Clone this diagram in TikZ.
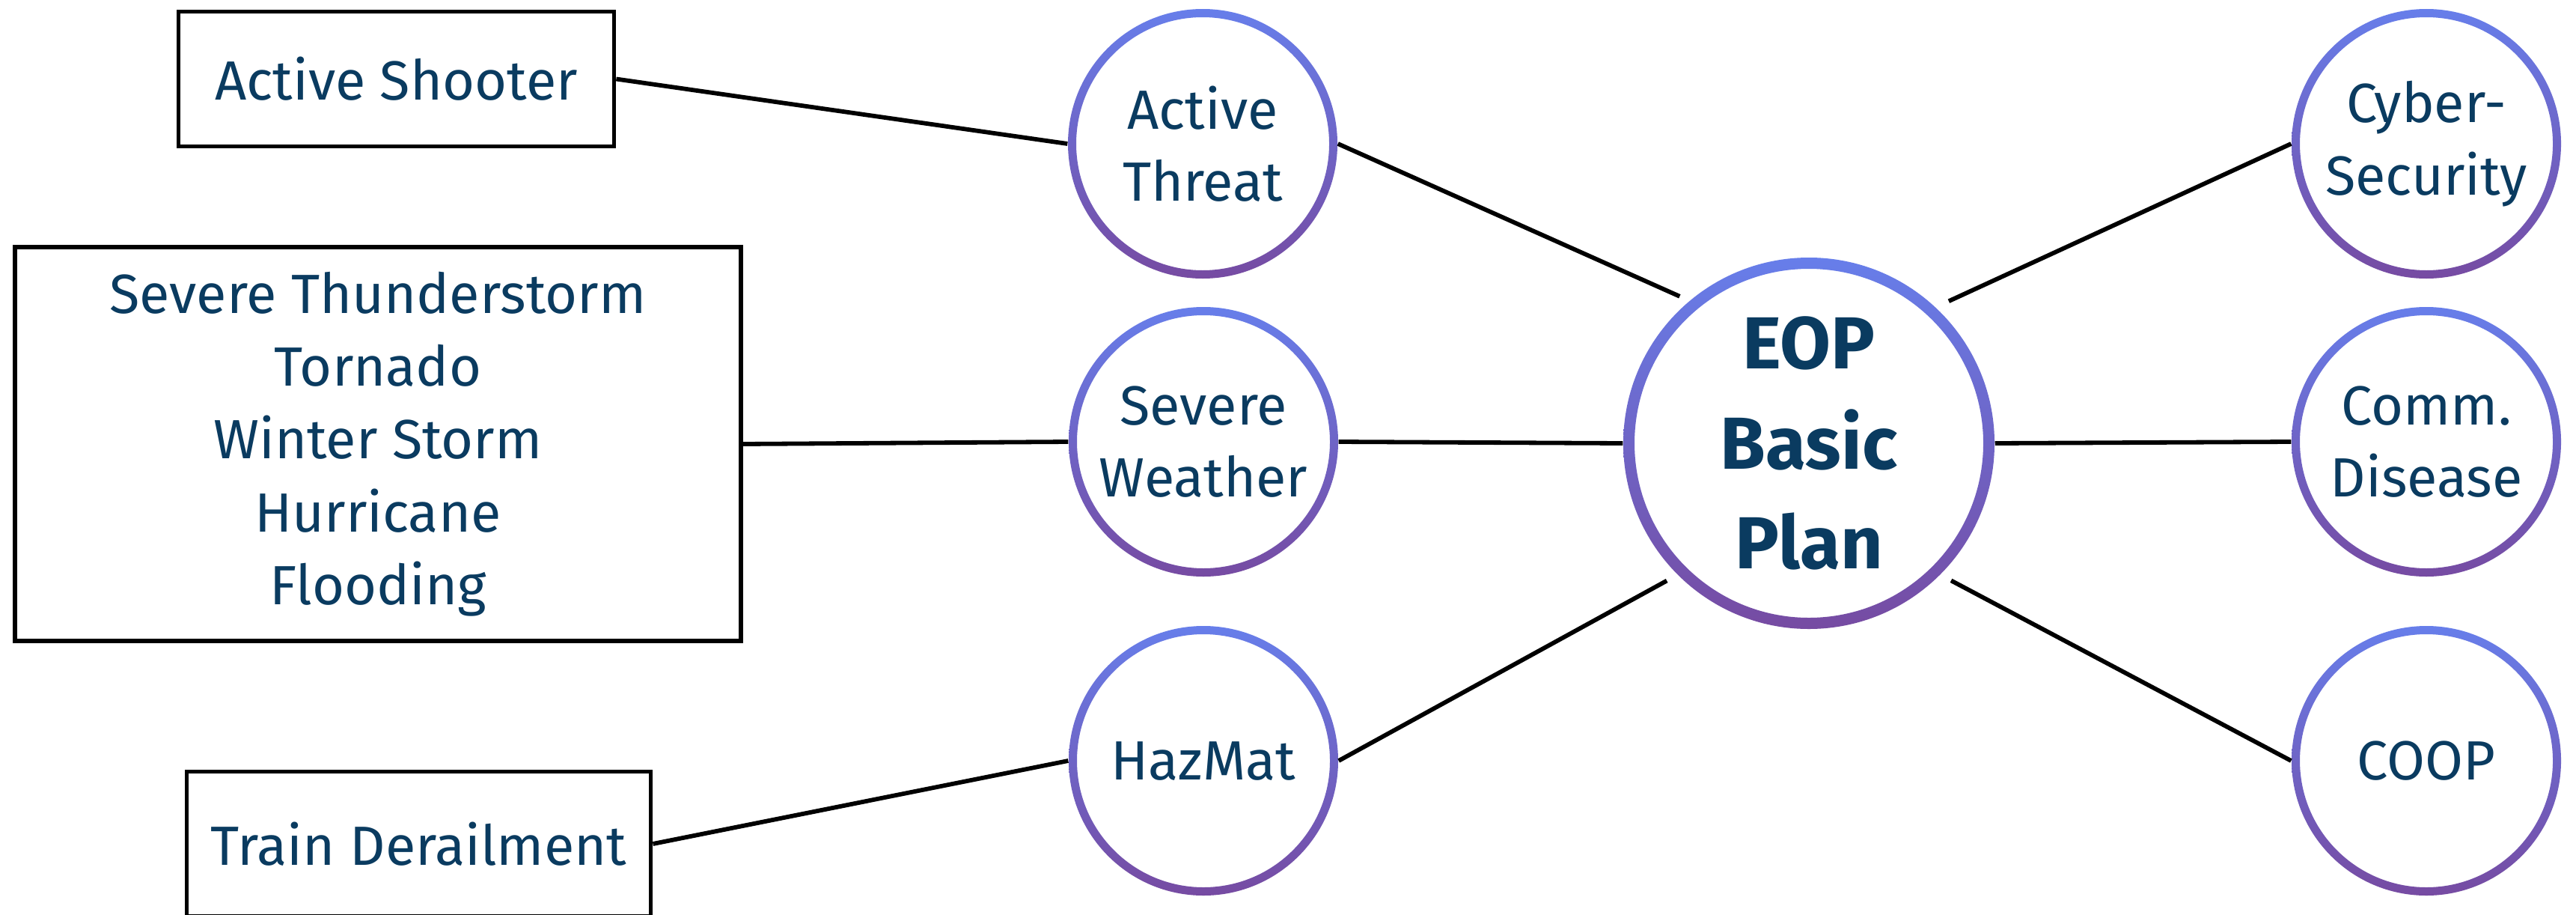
\documentclass[tikz,border=0pt]{standalone}
\usepackage{fontspec}
\setmainfont{Fira Sans}
\definecolor{labelblue}{RGB}{10,59,96}
\definecolor{ringtop}{RGB}{103,126,234}
\definecolor{ringbot}{RGB}{118,75,162}
\tikzset{
  hazard/.style={circle, minimum size=3.6cm, inner sep=0pt, align=center, text=labelblue,
    font=\fontsize{21}{27.5}\selectfont},
  plan/.style={circle, minimum size=4.96cm, inner sep=0pt, align=center, text=labelblue,
    font=\fontsize{28}{38}\selectfont\bfseries},
  event/.style={draw=black, line width=0.058cm, inner sep=0pt, align=center, text=labelblue,
    font=\fontsize{21}{27.7}\selectfont},
  link/.style={line width=0.058cm, draw=black}
}

\begin{document}
\begin{tikzpicture}[x=1cm,y=1cm]

\path[use as bounding box, fill=white] (0,0) rectangle (34.42,-12.21);

% ---------------- Hazard circles ----------------
\node[hazard] (at) at (16.07,-1.92) {Active\\Threat};
\node[hazard] (sw) at (16.08,-5.90) {Severe\\Weather};
\node[hazard] (hm) at (16.08,-10.16) {HazMat};
\node[hazard] (cs) at (32.42,-1.92) {Cyber-\\Security};
\node[hazard] (cd) at (32.42,-5.90) {Comm.\\Disease};
\node[hazard] (coop) at (32.42,-10.16) {COOP};

\foreach \n in {at,sw,hm,cs,cd,coop}
  \shade[top color=ringtop, bottom color=ringbot, even odd rule]
    (\n.center) circle (1.8) circle (1.69);

% ---------------- Basic plan ----------------
\node[plan] (eop) at (24.17,-5.92) {EOP\\Basic\\Plan};
\shade[top color=ringtop, bottom color=ringbot, even odd rule]
  (eop.center) circle (2.48) circle (2.33);

% ---------------- Event boxes ----------------
\node[event, minimum width=5.82cm, minimum height=1.80cm] (shooter) at (5.295,-1.055) {Active Shooter};
\node[event, minimum width=9.70cm, minimum height=5.26cm] (storms) at (5.05,-5.93)
  {Severe Thunderstorm\\Tornado\\Winter Storm\\Hurricane\\Flooding};
\node[event, minimum width=6.20cm, minimum height=1.93cm] (train) at (5.595,-11.27) {Train Derailment};

% ---------------- Connectors ----------------
\draw[link] (shooter.east) -- (at.west);
\draw[link] (storms.east) -- (sw.west);
\draw[link] (train.east) -- (hm.west);

\draw[link, shorten >=0.14cm] (at.east) -- (eop.130.5);
\draw[link] (sw.east) -- (eop.west);
\draw[link, shorten >=0.16cm] (hm.east) -- (eop.225);

\draw[link, shorten <=0.19cm] (eop.47.4) -- (cs.west);
\draw[link] (eop.east) -- (cd.west);
\draw[link, shorten <=0.16cm] (eop.-45) -- (coop.west);

\end{tikzpicture}
\end{document}
